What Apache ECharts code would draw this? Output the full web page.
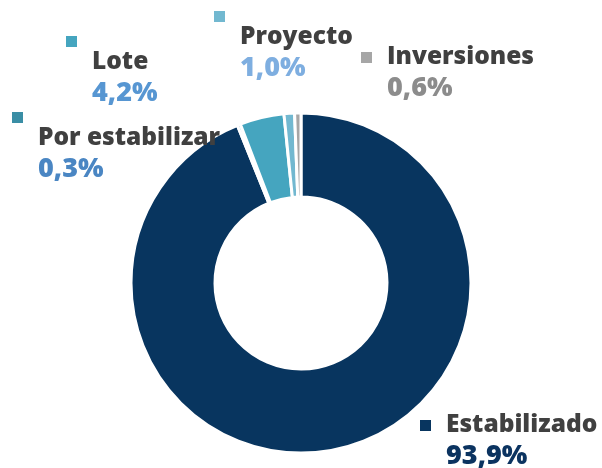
<!DOCTYPE html>
<html>
<head>
<meta charset="utf-8">
<script src="https://cdn.jsdelivr.net/npm/echarts@6/dist/echarts.min.js"></script>
<style>
  html, body { margin: 0; padding: 0; background: #fff; }
  #chart { width: 602px; height: 468px; }
</style>
</head>
<body>
<div id="chart"></div>
<script>
// datos del gráfico
var names = ['Estabilizado', 'Por estabilizar', 'Lote', 'Proyecto', 'Inversiones'];
var values = [93.9, 0.3, 4.2, 1.0, 0.6];
var labels = ['93,9%', '0,3%', '4,2%', '1,0%', '0,6%'];

var sliceColors = ['#08355f', '#3a8ea5', '#45a5bf', '#72b8d0', '#a6a6a6'];
var valueColors = ['#0b3360', '#4a86c3', '#5796d2', '#7eaee0', '#8c8c8c'];
// 'stack' = cuadro arriba, nombre debajo; 'inline' = cuadro al lado del nombre
var labelKind = ['inline', 'stack', 'stack', 'stack', 'inline'];
var labelPos = [[420, 410], [12, 112], [66, 36], [214, 11], [361, 42]];

var chart = echarts.init(document.getElementById('chart'));

var rich = {
    gap: { width: 15 },
    pad: { width: 26 },
    name: { fontFamily: 'Open Sans', fontWeight: 800, fontSize: 24.5, lineHeight: 31, color: '#404040' }
};

var data = names.map(function (n, i) {
    var r = {};
    r['sq' + i] = { width: 11, height: 11, lineHeight: 11, backgroundColor: sliceColors[i], verticalAlign: 'middle' };
    r['sqi' + i] = { width: 11, height: 11, backgroundColor: sliceColors[i], verticalAlign: 'middle' };
    r['v' + i] = { fontFamily: 'Open Sans', fontWeight: 800, fontSize: 27, lineHeight: 31, color: valueColors[i] };
    var fmt;
    if (labelKind[i] == 'stack') {
        fmt = '{sq' + i + '|}\n{pad|}{name|' + n + '}\n{pad|}{v' + i + '|' + labels[i] + '}';
    } else {
        fmt = '{sqi' + i + '|}{gap|}{name|' + n + '}\n{pad|}{v' + i + '|' + labels[i] + '}';
    }
    return {
        name: n,
        value: values[i],
        itemStyle: { color: sliceColors[i] },
        label: { formatter: fmt, rich: Object.assign({}, rich, r) }
    };
});

var option = {
    animation: false,
    series: [{
        type: 'pie',
        center: [301, 283],
        radius: [86, 170],
        startAngle: 90,
        clockwise: true,
        avoidLabelOverlap: false,
        itemStyle: { borderColor: '#ffffff', borderWidth: 3 },
        emphasis: { disabled: true },
        label: { show: true, position: 'outside', align: 'left' },
        labelLine: { show: false },
        labelLayout: function (p) {
            var pos = labelPos[p.dataIndex];
            return { x: pos[0], y: pos[1], align: 'left', verticalAlign: 'top' };
        },
        data: data
    }]
};
chart.setOption(option);
</script>
</body>
</html>
